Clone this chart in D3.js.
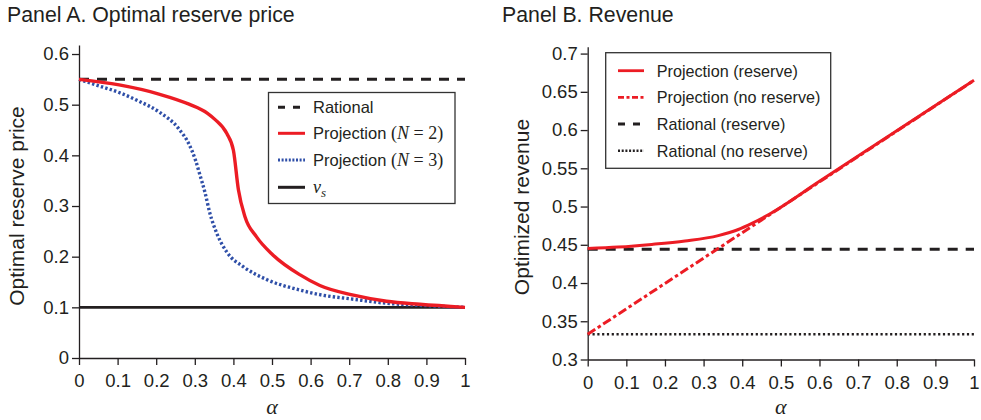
<!DOCTYPE html>
<html>
<head>
<meta charset="utf-8">
<script src="https://cdn.jsdelivr.net/npm/d3@7"></script>
<style>
  body { margin: 0; background: #fff; }
  svg { font-family: "Liberation Sans", Arial, Helvetica, sans-serif; }
  .axis path, .axis line { stroke: #231f20; stroke-width: 1.3; }
  .axis text { fill: #231f20; font-size: 18.5px; font-family: "Liberation Sans", Arial, sans-serif; }
</style>
</head>
<body>
<svg width="981" height="420"></svg>
<script>
// Panel A: optimal reserve price
const alphaN2 = [0, 0.104, 0.207, 0.285, 0.333, 0.352, 0.383, 0.400, 0.413, 0.430, 0.460, 0.503, 0.573, 0.624, 0.711, 0.797, 0.883, 1];
const reserveN2 = [0.55, 0.539, 0.521, 0.501, 0.483, 0.471, 0.443, 0.410, 0.332, 0.279, 0.239, 0.203, 0.164, 0.143, 0.124, 0.112, 0.106, 0.1];
const alphaN3 = [0, 0.052, 0.104, 0.155, 0.207, 0.259, 0.285, 0.302, 0.313, 0.326, 0.339, 0.357, 0.383, 0.426, 0.486, 0.573, 0.624, 0.711, 0.797, 0.883, 1];
const reserveN3 = [0.55, 0.537, 0.524, 0.507, 0.486, 0.452, 0.422, 0.39, 0.362, 0.328, 0.286, 0.246, 0.209, 0.180, 0.155, 0.134, 0.125, 0.116, 0.108, 0.104, 0.1];
const rationalReserve = 0.55;
const sellerValue = 0.1;

// Panel B: revenue
const alphaProjRes = [0, 0.079, 0.166, 0.252, 0.338, 0.39, 0.425, 0.47, 0.6, 1];
const revProjRes = [0.445, 0.447, 0.4505, 0.455, 0.462, 0.470, 0.478, 0.49, 0.533, 0.665];
const alphaProjNoRes = [0, 1];
const revProjNoRes = [0.333, 0.665];
const revRationalRes = 0.444;
const revRationalNoRes = 0.333;

const xTicks = [0, 0.1, 0.2, 0.3, 0.4, 0.5, 0.6, 0.7, 0.8, 0.9, 1];
const yTicksA = [0, 0.1, 0.2, 0.3, 0.4, 0.5, 0.6];
const yTicksB = [0.3, 0.35, 0.4, 0.45, 0.5, 0.55, 0.6, 0.65, 0.7];

const RED = "#ec1c24";
const BLUE = "#2f4fa8";
const INK = "#231f20";
const SERIF = "'Liberation Serif', 'DejaVu Serif', serif";

const svg = d3.select("svg");
const fmt = d => d === 0 ? "0" : d === 1 ? "1" : String(d);

function drawAxes(x, y, yTicks, x0, y0) {
    svg.append("g").attr("class", "axis")
        .attr("transform", `translate(0,${y0})`)
        .call(d3.axisBottom(x).tickValues(xTicks).tickFormat(fmt).tickSize(7).tickSizeOuter(0).tickPadding(9));
    svg.append("g").attr("class", "axis")
        .attr("transform", `translate(${x0},0)`)
        .call(d3.axisLeft(y).tickValues(yTicks).tickFormat(fmt).tickSize(7).tickSizeOuter(0).tickPadding(3));
}

function lineOf(x, y, curve) {
    return d3.line().x(d => x(d[0])).y(d => y(d[1])).curve(curve || d3.curveLinear);
}

// ---------- Panel A ----------
const xA = d3.scaleLinear().domain([0, 1]).range([79, 465]);
const yA = d3.scaleLinear().domain([0, 0.6178]).range([358, 45]);
drawAxes(xA, yA, yTicksA, 79, 358);

svg.append("text").attr("x", 7).attr("y", 22).attr("font-size", 21.3).attr("fill", INK)
    .text("Panel A. Optimal reserve price");
svg.append("text").attr("transform", "translate(24,206) rotate(-90)").attr("text-anchor", "middle")
    .attr("font-size", 21).attr("fill", INK).text("Optimal reserve price");

const lineA = lineOf(xA, yA);
const curveA = lineOf(xA, yA, d3.curveMonotoneX);

svg.append("path").datum([[0, sellerValue], [1, sellerValue]]).attr("d", lineA)
    .attr("fill", "none").attr("stroke", INK).attr("stroke-width", 2.8);
svg.append("path").datum([[0, rationalReserve], [1, rationalReserve]]).attr("d", lineA)
    .attr("fill", "none").attr("stroke", INK).attr("stroke-width", 3).attr("stroke-dasharray", "10,8");
svg.append("path").datum(alphaN3.map((a, i) => [a, reserveN3[i]])).attr("d", curveA)
    .attr("fill", "none").attr("stroke", BLUE).attr("stroke-width", 3.4).attr("stroke-dasharray", "2.4,2.2");
svg.append("path").datum(alphaN2.map((a, i) => [a, reserveN2[i]])).attr("d", curveA)
    .attr("fill", "none").attr("stroke", RED).attr("stroke-width", 3.4);

// legend A
const legA = svg.append("g");
legA.append("rect").attr("x", 268.5).attr("y", 92.5).attr("width", 186.5).attr("height", 111)
    .attr("fill", "#fff").attr("stroke", "#333").attr("stroke-width", 1.3);
const legAItems = [
    { stroke: INK, dash: "7,8", w: 3 },
    { stroke: RED, dash: null, w: 3 },
    { stroke: BLUE, dash: "2,1.6", w: 3 },
    { stroke: INK, dash: null, w: 3 }
];
const legARows = [107.3, 133.3, 160, 187.3];
legAItems.forEach((it, i) => {
    legA.append("line").attr("x1", 278).attr("x2", 305).attr("y1", legARows[i]).attr("y2", legARows[i])
        .attr("stroke", it.stroke).attr("stroke-width", it.w).attr("stroke-dasharray", it.dash);
});
const tA = (i) => legA.append("text").attr("x", 313).attr("y", legARows[i] + 6).attr("font-size", 16.5).attr("fill", INK);
tA(0).text("Rational");
[2, 3].forEach((n, k) => {
    const t = tA(k + 1);
    t.append("tspan").text("Projection ");
    t.append("tspan").attr("font-family", SERIF).attr("font-size", 18).text("(");
    t.append("tspan").attr("font-family", SERIF).attr("font-size", 18).attr("font-style", "italic").text("N");
    t.append("tspan").attr("font-family", SERIF).attr("font-size", 18).text(` = ${n})`);
});
const tv = tA(3).attr("font-family", SERIF).attr("font-style", "italic").attr("font-size", 18);
tv.append("tspan").text("v");
tv.append("tspan").attr("font-size", 13).attr("dy", 4).text("s");

svg.append("text").attr("x", xA(0.5)).attr("y", 414).attr("text-anchor", "middle")
    .attr("font-family", SERIF).attr("font-style", "italic")
    .attr("font-size", 22).attr("fill", INK).text("α");

// ---------- Panel B ----------
const xB = d3.scaleLinear().domain([0, 1]).range([587.7, 974]);
const yB = d3.scaleLinear().domain([0.3, 0.709]).range([359.5, 46.7]);
drawAxes(xB, yB, yTicksB, 587.7, 359.5);

svg.append("text").attr("x", 502).attr("y", 22).attr("font-size", 21.3).attr("fill", INK)
    .text("Panel B. Revenue");
svg.append("text").attr("transform", "translate(529,207) rotate(-90)").attr("text-anchor", "middle")
    .attr("font-size", 21).attr("fill", INK).text("Optimized revenue");

const lineB = lineOf(xB, yB);
const curveB = lineOf(xB, yB, d3.curveMonotoneX);

svg.append("path").datum([[0, revRationalNoRes], [1, revRationalNoRes]]).attr("d", lineB)
    .attr("fill", "none").attr("stroke", INK).attr("stroke-width", 2.6).attr("stroke-dasharray", "2.2,2.6");
svg.append("path").datum([[0, revRationalRes], [1, revRationalRes]]).attr("d", lineB)
    .attr("fill", "none").attr("stroke", INK).attr("stroke-width", 3).attr("stroke-dasharray", "10,8");
svg.append("path").datum(alphaProjNoRes.map((a, i) => [a, revProjNoRes[i]])).attr("d", lineB)
    .attr("fill", "none").attr("stroke", RED).attr("stroke-width", 3).attr("stroke-dasharray", "9,3,3.5,3");
svg.append("path").datum(alphaProjRes.map((a, i) => [a, revProjRes[i]])).attr("d", curveB)
    .attr("fill", "none").attr("stroke", RED).attr("stroke-width", 3);

// legend B
const legB = svg.append("g");
legB.append("rect").attr("x", 605.7).attr("y", 52.7).attr("width", 225).attr("height", 115.6)
    .attr("fill", "#fff").attr("stroke", "#333").attr("stroke-width", 1.3);
const legBItems = [
    { label: "Projection (reserve)", stroke: RED, dash: null, w: 2.8 },
    { label: "Projection (no reserve)", stroke: RED, dash: "6,2.5,3,2.5", w: 2.8 },
    { label: "Rational (reserve)", stroke: INK, dash: "7,8", w: 3 },
    { label: "Rational (no reserve)", stroke: INK, dash: "2,1.7", w: 2.4 }
];
const legBRows = [70.7, 97.3, 124, 150.7];
legBItems.forEach((it, i) => {
    legB.append("line").attr("x1", 618).attr("x2", 644).attr("y1", legBRows[i]).attr("y2", legBRows[i])
        .attr("stroke", it.stroke).attr("stroke-width", it.w).attr("stroke-dasharray", it.dash);
    legB.append("text").attr("x", 656.7).attr("y", legBRows[i] + 6).attr("font-size", 16.2).attr("fill", INK)
        .text(it.label);
});

svg.append("text").attr("x", xB(0.5)).attr("y", 414).attr("text-anchor", "middle")
    .attr("font-family", SERIF).attr("font-style", "italic")
    .attr("font-size", 22).attr("fill", INK).text("α");
</script>
</body>
</html>
